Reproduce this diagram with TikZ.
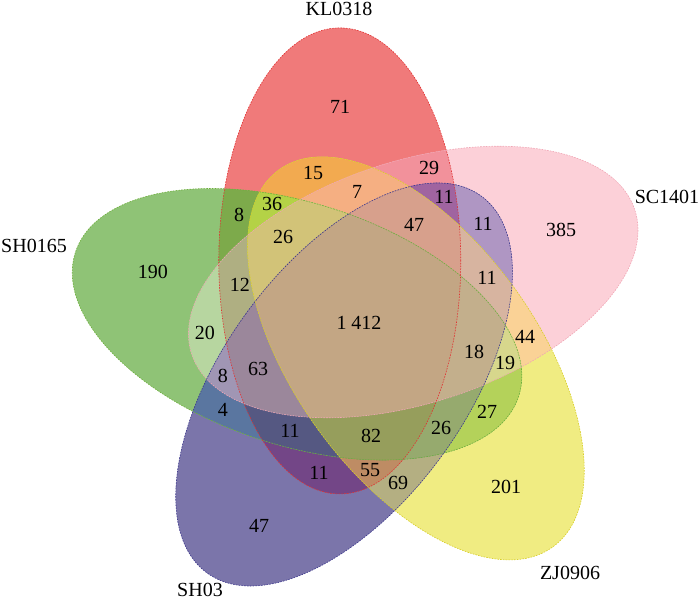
\documentclass[tikz,border=0pt]{standalone}
\usepackage{fontspec}
\setmainfont{Liberation Serif}

% petals: 0 KL0318, 1 SC1401, 2 ZJ0906, 3 SH03, 4 SH0165
\newcommand\vennclip[1]{\clip[rotate=-72*#1] (110:65) ellipse [x radius=121, y radius=233];}
\def\vennclips#1{\ifx#1\relax\else\vennclip{#1}\expandafter\vennclips\fi}
\newcommand\venncell[2]{\begin{scope}\vennclips#1\relax
	\definecolor{cellfill}{RGB}{#2}\fill[cellfill] (-362,-280) rectangle (338,322);\end{scope}}

\definecolor{klline}{RGB}{225,50,50}
\definecolor{scline}{RGB}{240,165,180}
\definecolor{zjline}{RGB}{215,205,40}
\definecolor{shbline}{RGB}{60,55,140}
\definecolor{shgline}{RGB}{110,175,60}

\begin{document}
\begin{tikzpicture}[x=1pt,y=1pt,
	rim/.style={line width=0.6pt, dash pattern=on 1.6pt off 1.2pt},
	count/.style={inner sep=0pt}]
	\fontsize{20}{24}\selectfont
	\useasboundingbox (-362,-280) rectangle (338,322);

	\venncell{0}{240,122,122}
	\venncell{1}{252,208,216}
	\venncell{2}{240,236,130}
	\venncell{3}{123,117,170}
	\venncell{4}{143,195,118}
	\venncell{01}{242,145,155}
	\venncell{02}{242,170,80}
	\venncell{03}{115,70,135}
	\venncell{04}{125,170,75}
	\venncell{12}{250,210,150}
	\venncell{13}{175,150,195}
	\venncell{14}{183,214,160}
	\venncell{23}{180,175,130}
	\venncell{24}{180,210,90}
	\venncell{34}{90,118,160}
	\venncell{012}{245,175,130}
	\venncell{013}{160,100,160}
	\venncell{014}{175,175,130}
	\venncell{023}{190,140,100}
	\venncell{024}{180,210,70}
	\venncell{034}{85,88,130}
	\venncell{123}{215,180,160}
	\venncell{124}{215,215,140}
	\venncell{134}{160,150,180}
	\venncell{234}{150,170,110}
	\venncell{0123}{215,160,140}
	\venncell{0124}{210,195,120}
	\venncell{0134}{155,135,155}
	\venncell{0234}{150,158,92}
	\venncell{1234}{195,175,140}
	\venncell{01234}{195,166,132}

	\draw[rim, draw=shgline, rotate=-288] (110:65) ellipse [x radius=121, y radius=233];
	\draw[rim, draw=klline] (110:65) ellipse [x radius=121, y radius=233];
	\draw[rim, draw=scline, rotate=-72] (110:65) ellipse [x radius=121, y radius=233];
	\draw[rim, draw=zjline, rotate=-144] (110:65) ellipse [x radius=121, y radius=233];
	\draw[rim, draw=shbline, rotate=-216] (110:65) ellipse [x radius=121, y radius=233];

	\node[count] (lbl-kl) at (-23,313) {KL0318};
	\node[count] (lbl-sc) at (305,125) {SC1401};
	\node[count] (lbl-shg) at (-328,76) {SH0165};
	\node[count] (lbl-shb) at (-162,-268) {SH03};
	\node[count] (lbl-zj) at (208,-251) {ZJ0906};

	\node[count] (kl) at (-22,215) {71};
	\node[count] (sc) at (199,92) {385};
	\node[count] (shg) at (-209,50) {190};
	\node[count] (shb) at (-103,-204) {47};
	\node[count] (zj) at (144,-165) {201};
	\node[count] (kl-zj) at (-49,149) {15};
	\node[count] (kl-sc) at (67,154) {29};
	\node[count] (kl-sc-zj) at (-5,130) {7};
	\node[count] (kl-sc-shb) at (82,125) {11};
	\node[count] (sc-shb) at (121,98) {11};
	\node[count] (kl-shg) at (-123,107) {8};
	\node[count] (kl-zj-shg) at (-90,118) {36};
	\node[count] (kl-sc-zj-shg) at (-79,85) {26};
	\node[count] (kl-sc-zj-shb) at (52,97) {47};
	\node[count] (kl-sc-shg) at (-122,37) {12};
	\node[count] (sc-zj-shb) at (125,44) {11};
	\node[count] (all) at (-3,-1) {1 412};
	\node[count] (sc-shg) at (-157,-11) {20};
	\node[count] (sc-zj-shb-shg) at (112,-30) {18};
	\node[count] (sc-zj-shg) at (143,-41) {19};
	\node[count] (sc-zj) at (163,-15) {44};
	\node[count] (sc-shb-shg) at (-139,-54) {8};
	\node[count] (kl-sc-shb-shg) at (-104,-47) {63};
	\node[count] (shb-shg) at (-139,-88) {4};
	\node[count] (kl-shb-shg) at (-72,-109) {11};
	\node[count] (kl-zj-shb-shg) at (9,-114) {82};
	\node[count] (zj-shb-shg) at (79,-106) {26};
	\node[count] (zj-shg) at (125,-90) {27};
	\node[count] (kl-shb) at (-43,-151) {11};
	\node[count] (kl-zj-shb) at (8,-148) {55};
	\node[count] (zj-shb) at (36,-161) {69};
\end{tikzpicture}
\end{document}
